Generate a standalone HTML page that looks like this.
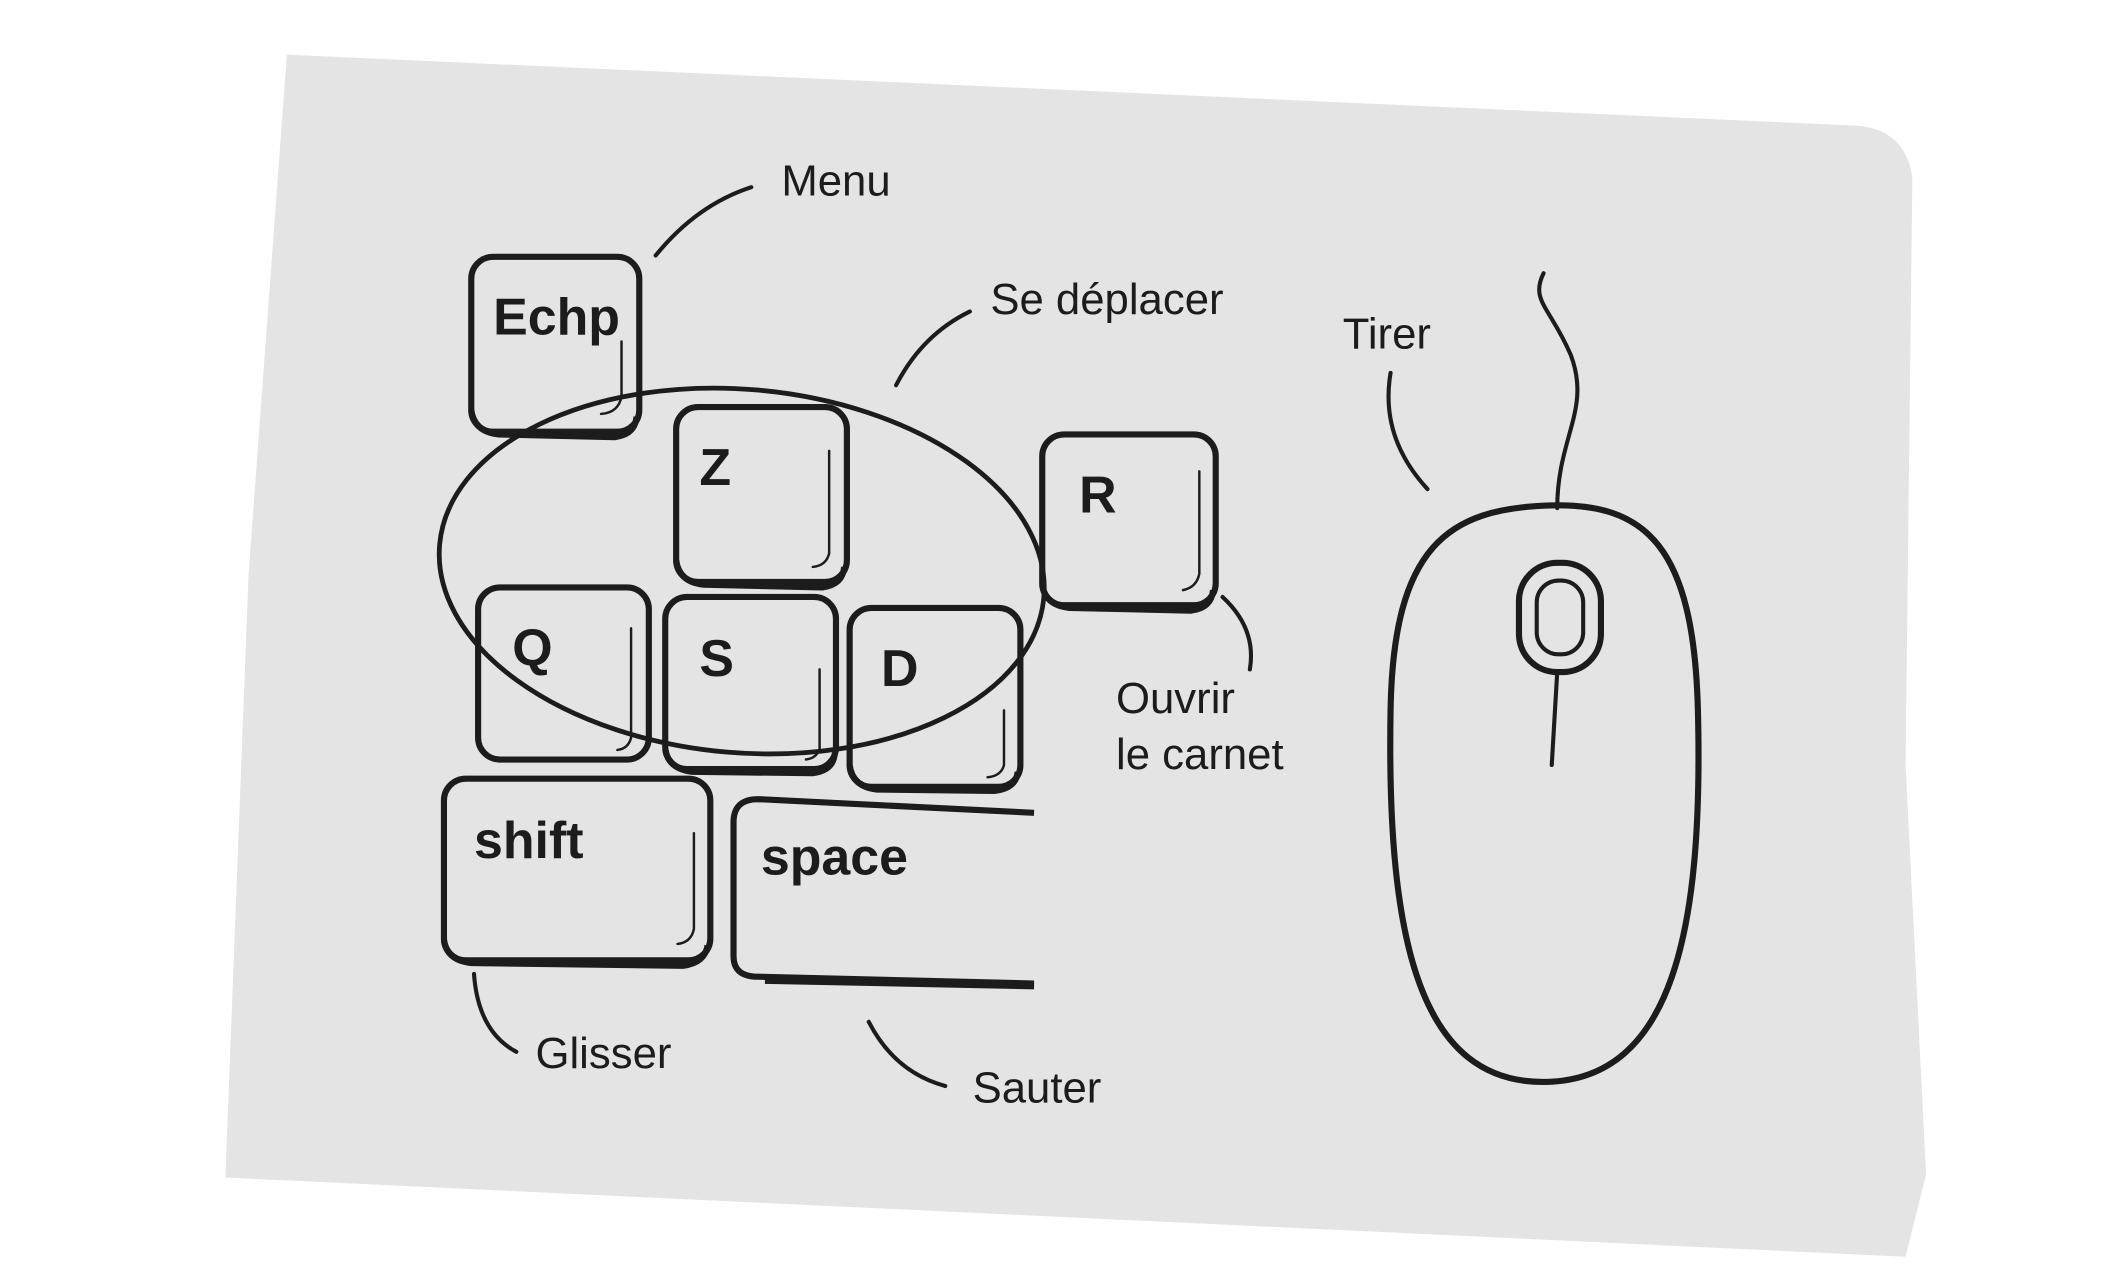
<!DOCTYPE html>
<html><head><meta charset="utf-8"><style>
html,body{margin:0;padding:0;background:#fff;width:2120px;height:1280px;overflow:hidden}
svg{display:block}
.k{fill:none;stroke:#1c1c1c;stroke-width:4.5;stroke-linejoin:round}
.lbl{font-family:"Liberation Sans",sans-serif;fill:#1c1c1c;font-size:32px}
.key{font-family:"Liberation Sans",sans-serif;fill:#1c1c1c;font-weight:bold;font-size:38px}
.c{fill:none;stroke:#1c1c1c;stroke-width:3;stroke-linecap:round}
.hl{fill:none;stroke:#1c1c1c;stroke-width:1.8;stroke-linecap:round}
</style></head><body>
<svg width="2120" height="1280" viewBox="0 0 1552 937">
<path d="M210,40 L1360,92 Q1395,95 1400,130 L1395,560 L1410,860 L1395,920 L165,862 L182,420 Z" fill="#e4e4e4"/>
<g><rect class="k" x="345" y="188" width="123" height="128" rx="16"/><path class="k" d="M345,300 Q347,316 365,318 L450,320 Q465,318 466,305" stroke-width="7"/><path class="hl" d="M455,250 L455,290 Q453,302 440,303"/><text class="key" x="361" y="245" font-size="33">Echp</text></g>
<g><rect class="k" x="495" y="298" width="125" height="128" rx="16"/><path class="k" d="M495,410 Q497,426 515,428 L602,430 Q617,428 618,415" stroke-width="7"/><path class="hl" d="M607,330 L607,405 Q605,414 595,415"/><text class="key" x="512" y="355">Z</text></g>
<g><rect class="k" x="763" y="318" width="127" height="125" rx="16"/><path class="k" d="M763,428 Q765,443 783,445 L872,447 Q887,445 888,432" stroke-width="7"/><path class="hl" d="M878,345 L878,420 Q876,430 866,432"/><text class="key" x="790" y="375">R</text></g>
<g><rect class="k" x="350" y="430" width="125" height="126" rx="16"/><path class="hl" d="M462,460 L462,540 Q460,548 452,549"/><text class="key" x="375" y="487">Q</text></g>
<g><rect class="k" x="487" y="437" width="125" height="126" rx="16"/><path class="k" d="M487,548 Q489,563 507,565 L595,566 Q610,564 611,552" stroke-width="7"/><path class="hl" d="M600,490 L600,548 Q598,555 590,556"/><text class="key" x="512" y="495">S</text></g>
<g><rect class="k" x="622" y="445" width="125" height="131" rx="16"/><path class="k" d="M622,560 Q624,576 642,578 L728,579 Q744,577 745,565" stroke-width="7"/><path class="hl" d="M735,520 L735,560 Q733,568 723,569"/><text class="key" x="645" y="502">D</text></g>
<g><rect class="k" x="325" y="570" width="195" height="133" rx="16"/><path class="k" d="M325,688 Q327,703 345,705 L500,707 Q516,705 518,692" stroke-width="7"/><path class="hl" d="M508,610 L508,680 Q506,690 496,691"/><text class="key" x="347" y="628">shift</text></g>
<g><path class="k" d="M757,595 L555,585 Q537,585 537,602 L537,700 Q537,715 555,715 L757,720"/><path class="k" d="M560,718 L757,722" stroke-width="7"/><text class="key" x="557" y="640" font-size="34">space</text></g>
<ellipse cx="543" cy="418" rx="222" ry="133" transform="rotate(5 543 418)" fill="none" stroke="#1c1c1c" stroke-width="3.5"/>
<g>
<path class="k" d="M1135,370 C1205,368 1240,400 1243,520 C1247,680 1225,790 1132,792 C1040,794 1015,690 1018,520 C1020,400 1060,372 1135,370 Z"/>
<rect class="k" x="1112" y="412" width="60" height="80" rx="28"/>
<rect x="1125" y="425" width="34" height="54" rx="16" fill="none" stroke="#1c1c1c" stroke-width="3"/>
<path class="c" d="M1140,372 C1140,320 1165,300 1150,260 C1135,225 1120,220 1130,200"/>
<path class="c" d="M1140,492 L1136,560"/>
</g>
<path class="c" d="M480,187 Q510,150 550,137"/>
<path class="c" d="M656,282 Q675,245 710,228"/>
<path class="c" d="M1045,358 Q1010,320 1018,273"/>
<path class="c" d="M895,437 Q920,460 915,490"/>
<path class="c" d="M347,713 Q350,755 378,770"/>
<path class="c" d="M636,748 Q655,785 692,795"/>
<text class="lbl" x="572" y="143">Menu</text>
<text class="lbl" x="725" y="230">Se déplacer</text>
<text class="lbl" x="983" y="255">Tirer</text>
<text class="lbl" x="817" y="522">Ouvrir</text>
<text class="lbl" x="817" y="563">le carnet</text>
<text class="lbl" x="392" y="782">Glisser</text>
<text class="lbl" x="712" y="807">Sauter</text>
</svg>
</body></html>
